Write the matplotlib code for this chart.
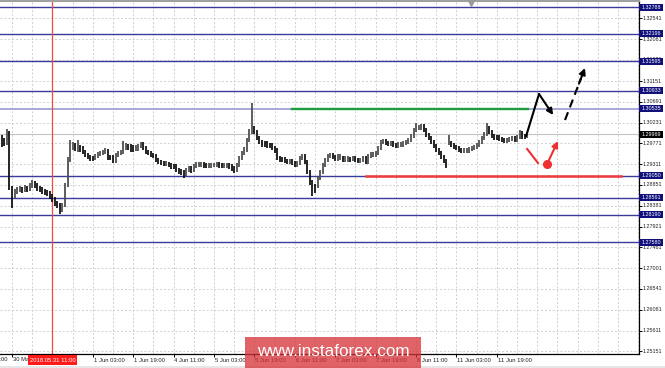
import matplotlib
matplotlib.use("Agg")
from matplotlib import pyplot as plt
from matplotlib import transforms, font_manager
from matplotlib.patches import Rectangle
import numpy as np

# H1 bars, first bar index relative to "30 May 19:00"
first_bar = -4
highs = [
    1.2995, 1.2989, 1.3009, 1.3004, 1.2882, 1.2876, 1.2880, 1.2882, 1.2880, 1.2885,
    1.2882, 1.2889, 1.2896, 1.2893, 1.2889, 1.2882, 1.2880, 1.2876, 1.2873, 1.2871,
    1.2865, 1.2858, 1.2849, 1.2845, 1.2845, 1.2889, 1.2947, 1.2984, 1.2980, 1.2978,
    1.2984, 1.2973, 1.2971, 1.2962, 1.2956, 1.2951, 1.2949, 1.2953, 1.2958, 1.2960,
    1.2962, 1.2967, 1.2964, 1.2951, 1.2951, 1.2956, 1.2960, 1.2962, 1.2982, 1.2978,
    1.2976, 1.2976, 1.2973, 1.2973, 1.2976, 1.2980, 1.2980, 1.2971, 1.2962, 1.2960,
    1.2956, 1.2953, 1.2944, 1.2940, 1.2938, 1.2938, 1.2936, 1.2933, 1.2931, 1.2931,
    1.2922, 1.2920, 1.2918, 1.2922, 1.2927, 1.2927, 1.2931, 1.2936, 1.2936, 1.2936,
    1.2936, 1.2933, 1.2933, 1.2933, 1.2933, 1.2936, 1.2936, 1.2933, 1.2933, 1.2933,
    1.2933, 1.2931, 1.2927, 1.2933, 1.2949, 1.2960, 1.2969, 1.2989, 1.3009, 1.3066,
    1.3015, 1.3007, 1.2993, 1.2984, 1.2982, 1.2982, 1.2978, 1.2978, 1.2971, 1.2967,
    1.2949, 1.2947, 1.2947, 1.2942, 1.2942, 1.2942, 1.2938, 1.2938, 1.2949, 1.2953,
    1.2953, 1.2940, 1.2918, 1.2896, 1.2887, 1.2904, 1.2918, 1.2933, 1.2944, 1.2953,
    1.2956, 1.2956, 1.2951, 1.2953, 1.2953, 1.2949, 1.2949, 1.2949, 1.2947, 1.2949,
    1.2949, 1.2944, 1.2944, 1.2949, 1.2949, 1.2953, 1.2958, 1.2958, 1.2960, 1.2971,
    1.2984, 1.2987, 1.2987, 1.2982, 1.2982, 1.2982, 1.2978, 1.2980, 1.2980, 1.2982,
    1.2984, 1.2989, 1.2998, 1.3011, 1.3022, 1.3018, 1.3020, 1.3020, 1.3011, 1.3000,
    1.2993, 1.2984, 1.2976, 1.2967, 1.2960, 1.2951, 1.2942, 1.2995, 1.2982, 1.2978,
    1.2973, 1.2971, 1.2967, 1.2967, 1.2967, 1.2969, 1.2971, 1.2973, 1.2978, 1.2984,
    1.2993, 1.3002, 1.3022, 1.3015, 1.3007, 1.2998, 1.2995, 1.2995, 1.2991, 1.2989,
    1.2989, 1.2991, 1.2993, 1.2993, 1.2995, 1.3007, 1.3004, 1.2998, 1.3002,
]
lows = [
    1.2969, 1.2971, 1.2973, 1.2873, 1.2834, 1.2856, 1.2865, 1.2869, 1.2867, 1.2869,
    1.2869, 1.2871, 1.2878, 1.2878, 1.2871, 1.2869, 1.2865, 1.2862, 1.2860, 1.2853,
    1.2847, 1.2838, 1.2834, 1.2820, 1.2825, 1.2836, 1.2880, 1.2936, 1.2962, 1.2960,
    1.2958, 1.2958, 1.2953, 1.2947, 1.2942, 1.2938, 1.2938, 1.2940, 1.2944, 1.2949,
    1.2951, 1.2953, 1.2940, 1.2940, 1.2933, 1.2933, 1.2947, 1.2951, 1.2953, 1.2962,
    1.2962, 1.2958, 1.2958, 1.2960, 1.2960, 1.2967, 1.2962, 1.2953, 1.2951, 1.2947,
    1.2944, 1.2936, 1.2931, 1.2929, 1.2927, 1.2927, 1.2924, 1.2920, 1.2920, 1.2913,
    1.2909, 1.2907, 1.2900, 1.2904, 1.2913, 1.2911, 1.2913, 1.2922, 1.2924, 1.2924,
    1.2922, 1.2922, 1.2922, 1.2922, 1.2924, 1.2924, 1.2922, 1.2922, 1.2922, 1.2922,
    1.2920, 1.2916, 1.2911, 1.2913, 1.2924, 1.2940, 1.2951, 1.2958, 1.2980, 1.2998,
    1.2998, 1.2984, 1.2976, 1.2969, 1.2969, 1.2967, 1.2967, 1.2962, 1.2956, 1.2940,
    1.2936, 1.2936, 1.2933, 1.2931, 1.2931, 1.2929, 1.2924, 1.2924, 1.2929, 1.2940,
    1.2931, 1.2909, 1.2885, 1.2860, 1.2867, 1.2878, 1.2896, 1.2909, 1.2924, 1.2936,
    1.2944, 1.2942, 1.2938, 1.2938, 1.2940, 1.2936, 1.2936, 1.2936, 1.2936, 1.2938,
    1.2936, 1.2933, 1.2933, 1.2936, 1.2931, 1.2931, 1.2944, 1.2947, 1.2947, 1.2951,
    1.2962, 1.2976, 1.2973, 1.2971, 1.2971, 1.2969, 1.2967, 1.2967, 1.2969, 1.2969,
    1.2973, 1.2976, 1.2980, 1.2989, 1.3002, 1.3007, 1.3007, 1.3002, 1.2991, 1.2984,
    1.2976, 1.2967, 1.2958, 1.2951, 1.2942, 1.2933, 1.2922, 1.2973, 1.2969, 1.2964,
    1.2962, 1.2958, 1.2956, 1.2956, 1.2956, 1.2956, 1.2960, 1.2962, 1.2964, 1.2969,
    1.2976, 1.2984, 1.2993, 1.2998, 1.2989, 1.2984, 1.2984, 1.2982, 1.2980, 1.2978,
    1.2978, 1.2980, 1.2982, 1.2980, 1.2980, 1.2987, 1.2987, 1.2987, 1.2989,
]

time_labels = ["30 May 03:00", "30 May 19:00", "31 May 11:00", "1 Jun 03:00", "1 Jun 19:00",
               "4 Jun 11:00", "5 Jun 03:00", "5 Jun 19:00", "6 Jun 11:00", "7 Jun 03:00",
               "7 Jun 19:00", "8 Jun 11:00", "11 Jun 03:00", "11 Jun 19:00"]
time_label_bars = [-16, 0, 16, 32, 48, 64, 80, 96, 112, 128, 144, 160, 176, 192]
cursor_bar = 16
cursor_label = "2018.05.31 11:00"

grid_prices = [1.32541, 1.32081, 1.31621, 1.31151, 1.30691, 1.30231, 1.29771, 1.29311,
               1.28851, 1.28381, 1.27921, 1.27461, 1.27001, 1.26541, 1.26081, 1.25611, 1.25151]
level_prices = [1.32788, 1.32196, 1.31595, 1.30933, 1.30535, 1.29050, 1.28561, 1.28190, 1.27580]
last_price = 1.29969

resistance_price = 1.30535
resistance_bars = [111, 204.5]
support_price = 1.29050
support_bars = [140, 241]

# forecast sketch (bar, price)
up_path = [(203.6, 1.29932), (208.7, 1.30864), (214.3, 1.30398)]
up_dashed = [(219.0, 1.30287), (226.9, 1.31441)]
down_path = [(204.0, 1.29644), (208.3, 1.29333)]
down_dot = (211.9, 1.29311)
down_arrow = [(211.9, 1.29311), (216.2, 1.29821)]

W, H = 665, 368
names = {f.name for f in font_manager.fontManager.ttflist}
small_font = 'Liberation Sans Narrow' if 'Liberation Sans Narrow' in names else 'Liberation Sans'
small_size = 4.6 if small_font == 'Liberation Sans Narrow' else 3.9
x_size = 4.9 if small_font == 'Liberation Sans Narrow' else 4.2

fig = plt.figure(figsize=(W / 100, H / 100), dpi=100)
fig.patch.set_facecolor('white')
ax = fig.add_axes([0, (H - 354) / H, 639 / W, 353.5 / H])
ax.set_xlim(-4.75, 248.3)
ax.set_ylim(1.25095, 1.32939)

px_price = (1.32939 - 1.25095) / 353.5

# grid
for p in grid_prices:
    ax.axhline(p, color='#cfcfcf', lw=0.7, ls=(0, (2, 2)), zorder=0)
for b in range(0, 249, 8):
    ax.axvline(b, color='#cfcfcf', lw=0.7, ls=(0, (2, 2)), zorder=0)

# levels
for p in level_prices:
    c = '#a8a8d8' if p == 1.30535 else '#3b3b9c'
    ax.axhline(p, color=c, lw=1.0 if p != 1.30535 else 1.4, zorder=1)
ax.axhline(last_price, color='#c4c4c4', lw=0.8, zorder=1)
ax.axvline(cursor_bar, color='#f04848', lw=0.9, zorder=1)

# bars
bars = np.arange(len(highs)) + first_bar
hi = np.array(highs)
lo = np.array(lows)
mid = (hi + lo) / 2
colors = ['#4a4a4a' if k > 0 and mid[k] >= mid[k - 1] else '#0a0a0a' for k in range(len(mid))]
ax.vlines(bars, lo, hi, colors=colors, lw=1.25, zorder=3)

ax.plot(resistance_bars, [resistance_price] * 2, color='#1f9a3c', lw=1.7, zorder=2)
ax.plot(support_bars, [support_price] * 2, color='#f03c3c', lw=1.8, zorder=2)

# forecast arrows
xs, ys = zip(*up_path)
ax.plot(xs[:2], ys[:2], color='black', lw=1.5, zorder=4, solid_capstyle='round')
ax.annotate('', xy=up_path[2], xytext=up_path[1],
            arrowprops=dict(arrowstyle='-|>', color='black', lw=1.5, mutation_scale=9, shrinkA=0, shrinkB=0))
(x0, y0), (x1, y1) = up_dashed
ax.plot([x0, x0 + (x1 - x0) * 0.8], [y0, y0 + (y1 - y0) * 0.8], color='black', lw=1.5,
        ls=(0, (4, 2.5)), zorder=4)
ax.annotate('', xy=(x1, y1), xytext=(x0 + (x1 - x0) * 0.7, y0 + (y1 - y0) * 0.7),
            arrowprops=dict(arrowstyle='-|>', color='black', lw=1.5, mutation_scale=9, shrinkA=0, shrinkB=0))
xs, ys = zip(*down_path)
ax.plot(xs, ys, color='#f03030', lw=1.5, zorder=4)
ax.plot([down_dot[0]], [down_dot[1]], 'o', color='#f03030', ms=5.5, zorder=5)
ax.annotate('', xy=down_arrow[1], xytext=down_arrow[0],
            arrowprops=dict(arrowstyle='-|>', color='#f03030', lw=1.5, mutation_scale=9, shrinkA=0, shrinkB=0))

# top marker
ax.plot([181.8], [1.32939 - 2 * px_price], marker='v', color='#9a9a9a', ms=4, clip_on=False, zorder=5)

# spines / ticks
ax.spines['left'].set_visible(False)
ax.spines['top'].set_color('#a0a0a0')
ax.spines['top'].set_linewidth(1.5)
ax.spines['right'].set_color('black')
ax.spines['bottom'].set_color('black')
ax.spines['right'].set_linewidth(0.9)
ax.spines['bottom'].set_linewidth(0.9)
ax.set_xticks([b for b in time_label_bars if b >= -4])
ax.set_xticklabels([])
ax.set_yticks(grid_prices)
ax.set_yticklabels([])
ax.tick_params(axis='x', length=2.5, width=0.7, direction='out')
ax.tick_params(axis='y', left=False, right=True, length=2, width=0.7, direction='out')

xtrans = transforms.blended_transform_factory(ax.transData, ax.transAxes)
ytrans = transforms.blended_transform_factory(ax.transAxes, ax.transData)
lab_y = -6 / 353.5
for b, t in zip(time_label_bars, time_labels):
    if b == cursor_bar:
        continue
    ax.text(b + 0.3, lab_y, t, transform=xtrans, ha='left', va='center',
            fontsize=x_size, family=small_font, color='#222222', clip_on=False)
ax.text(cursor_bar, lab_y, cursor_label, transform=xtrans, ha='center', va='center',
        fontsize=x_size, family=small_font, color='white', clip_on=False,
        bbox=dict(boxstyle='square,pad=0.35', fc='#ff1a1a', ec='none'))

for p in grid_prices:
    ax.text(1 + 4 / 639, p, f'{p:.5f}', transform=ytrans, ha='left', va='center',
            fontsize=small_size, family=small_font, color='#222222', clip_on=False)

box_h = 7 * px_price
for p, fc in [(v, '#10107a') for v in level_prices] + [(last_price, 'black')]:
    ax.add_patch(Rectangle((1.0, p - box_h / 2), 24 / 639, box_h, transform=ytrans,
                           fc=fc, ec='none', clip_on=False, zorder=6))
    ax.text(1 + 3 / 639, p, f'{p:.5f}', transform=ytrans, ha='left', va='center',
            fontsize=small_size, family=small_font, color='white', clip_on=False, zorder=7)

# watermark
fig.add_artist(Rectangle((245 / W, 0), 176 / W, 31 / H, transform=fig.transFigure,
                         fc='#d62f36', ec='none', alpha=0.75, zorder=10))
fig.text(333 / W, 1 - 352 / H, 'www.instaforex.com', color='white', fontsize=12.3,
         family='Liberation Sans', ha='center', va='center', zorder=11)
fig.add_artist(Rectangle((0, 0), 1, 2 / H, transform=fig.transFigure, fc='#e6e6e6', ec='none', zorder=9))

fig.savefig('out.png', dpi=100)
